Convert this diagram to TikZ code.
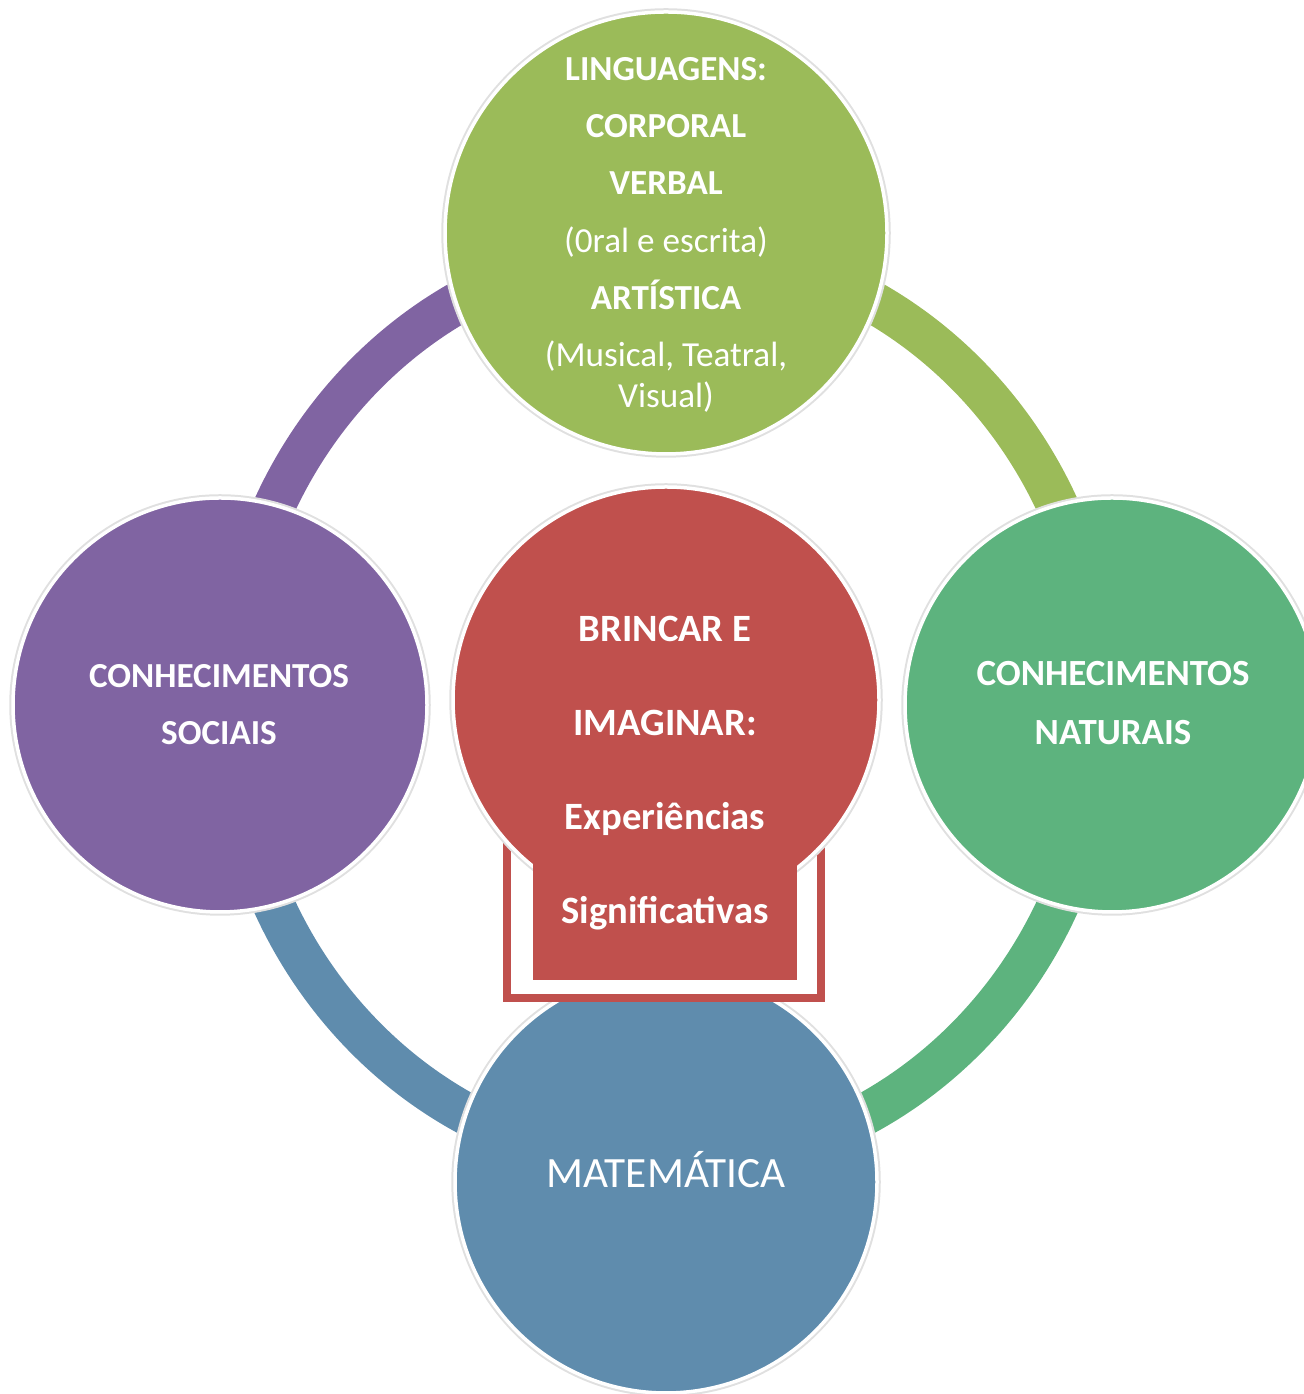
\documentclass[tikz,border=0pt]{standalone}
\usepackage{fontspec}
\setmainfont{Carlito}
\usepackage{tikz}

\definecolor{lingGreen}{HTML}{9BBB59}
\definecolor{socPurple}{HTML}{8064A2}
\definecolor{natGreen}{HTML}{5DB37E}
\definecolor{matBlue}{HTML}{5F8CAD}
\definecolor{brincRed}{HTML}{C0504D}

\tikzset{
  bubble/.style={circle, draw=white, line width=0.35mm, inner sep=0pt,
    text=white, align=center, preaction={draw=black!12, line width=0.75mm}},
  ringpart/.style={line width=4.2mm},
  label/.style={text=white, align=center, inner sep=0pt}
}

\begin{document}
\begin{tikzpicture}[x=0.1mm, y=0.1mm]
\useasboundingbox (0,0) rectangle (1303,1394);

% ring behind the circles
\coordinate (ringc) at (666,688);
\draw[ringpart, socPurple] (ringc) ++(-435,0) arc[start angle=180, end angle=90, x radius=43.5mm, y radius=45.9mm];
\draw[ringpart, lingGreen] (ringc) ++(0,459) arc[start angle=90, end angle=0, x radius=43.5mm, y radius=45.9mm];
\draw[ringpart, natGreen] (ringc) ++(435,0) arc[start angle=0, end angle=-90, x radius=43.5mm, y radius=45.9mm];
\draw[ringpart, matBlue] (ringc) ++(0,-459) arc[start angle=270, end angle=180, x radius=43.5mm, y radius=45.9mm];

% outer circles
\node[bubble, fill=lingGreen, minimum size=44.2mm] (ling) at (666,1161) {};
\node[bubble, fill=socPurple, minimum size=41.4mm] (soc) at (220,689) {};
\node[bubble, fill=natGreen, minimum size=41.4mm] (nat) at (1112,689) {};
\node[bubble, fill=matBlue, minimum size=42.2mm] (mat) at (666,212) {};

% frame and centre circle
\draw[brincRed, fill=white, line width=0.8mm] (507,594) rectangle (821,396);
\node[bubble, fill=brincRed, minimum size=42.6mm] (brinc) at (666,694) {};
\fill[brincRed] (533,594) rectangle (797,414);

% texts
\node[label, font=\fontsize{10}{16.3}\selectfont] (lingtxt) at (666,1159)
  {\textbf{LINGUAGENS:}\\ \textbf{CORPORAL}\\ \textbf{VERBAL}\\ (0ral e escrita)\\
   \textbf{ARTÍSTICA}\\ (Musical, Teatral,\\[-4.6pt] Visual)};
\node[label, font=\bfseries\fontsize{10}{16.2}\selectfont] (soctxt) at (219,689)
  {CONHECIMENTOS\\ SOCIAIS};
\node[label, font=\bfseries\fontsize{10.5}{17}\selectfont] (nattxt) at (1113,691)
  {CONHECIMENTOS\\ NATURAIS};
\node[label, font=\fontsize{12.3}{14}\selectfont] (mattxt) at (666,224)
  {MATEMÁTICA};
\node[label, font=\bfseries\fontsize{11}{26.8}\selectfont] (brinctxt) at (665,621)
  {BRINCAR E\\ IMAGINAR:\\ Experiências\\ Significativas};
\end{tikzpicture}
\end{document}
